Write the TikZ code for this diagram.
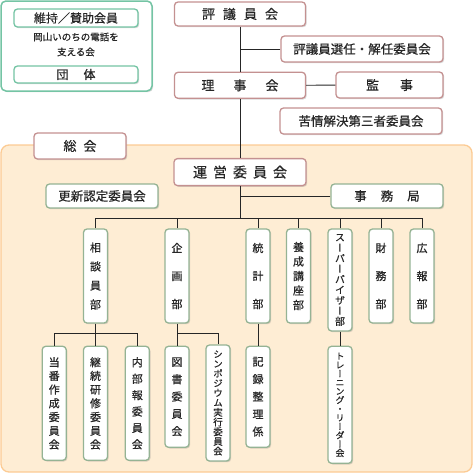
\documentclass[tikz,border=0pt]{standalone}
\usepackage{fontspec}
\usetikzlibrary{positioning,shadows}
\newfontfamily\jpfont[FakeBold=0.6,AutoFakeBold=0.6]{Noto Sans CJK JP}
\newfontfamily\jpvert[RawFeature={+vert},FakeBold=0.6]{Noto Sans CJK JP}
\definecolor{pinkline}{HTML}{C49191}
\definecolor{tealline}{HTML}{74C4A4}
\definecolor{sageline}{HTML}{95B394}
\definecolor{orangefill}{HTML}{FEEDD4}
\definecolor{orangeline}{HTML}{FCCB94}
\definecolor{linkline}{HTML}{262626}
\tikzset{
  orgbox/.style={draw, fill=white, line width=1.3pt, rounded corners=3.5pt, inner sep=0pt,
    text=black!85, drop shadow={shadow xshift=1.2pt, shadow yshift=-1.2pt, opacity=0.3}},
  pinkbox/.style={orgbox, draw=pinkline},
  tealbox/.style={orgbox, draw=tealline},
  greenbox/.style={orgbox, draw=sageline},
  hfont/.style={font=\jpfont\fontsize{#1}{#1}\selectfont},
  vbox/.style={greenbox, minimum width=24pt, align=center},
  vpitch/.style 2 args={font=\jpvert\fontsize{#1}{#2}\selectfont},
  link/.style={draw=linkline, line width=0.8pt},
}
\begin{document}
\begin{tikzpicture}[x=1pt,y=-1pt]
  \useasboundingbox (0,0) rectangle (474,474);
  \draw[orangeline, fill=orangefill, line width=1.3pt, rounded corners=8pt] (1,145) rectangle (472,472);
  \draw[tealline, fill=white, line width=1.5pt, rounded corners=5pt,
    drop shadow={shadow xshift=1.2pt, shadow yshift=-1.2pt, opacity=0.3}] (1,1) rectangle (152,91);

  \node[tealbox, hfont=12, minimum width=124pt, minimum height=18pt] (shiji) at (76,18) {維持／賛助会員};
  \node[align=center, text=black!85, font=\jpfont\fontsize{9.5}{15}\selectfont] (sasaeru) at (76,44.5) {岡山いのちの電話を\\支える会};
  \node[tealbox, hfont=12, minimum width=124pt, minimum height=17pt] (dantai) at (76,74.5) {団\hspace{15pt}体};

  \node[pinkbox, hfont=13, minimum width=131pt, minimum height=24pt] (hyogi) at (240,14) {評\hspace{8pt}議\hspace{8pt}員\hspace{8pt}会};
  \node[pinkbox, hfont=12.5, minimum width=162pt, minimum height=26pt] (senin) at (362,49) {評議員選任・解任委員会};
  \node[pinkbox, hfont=13, minimum width=131pt, minimum height=26pt, below=45pt of hyogi] (riji) {理\hspace{19pt}事\hspace{19pt}会};
  \node[pinkbox, hfont=13, minimum width=107pt, minimum height=26pt] (kansa) at (389.5,85) {監\hspace{21pt}事};
  \node[pinkbox, hfont=12.5, minimum width=162pt, minimum height=26pt] (kujo) at (361,121) {苦情解決第三者委員会};
  \node[pinkbox, hfont=13, minimum width=92pt, minimum height=26pt] (sokai) at (80,146) {総\hspace{7pt}会};
  \node[pinkbox, hfont=14, minimum width=132pt, minimum height=27pt, below=59pt of riji] (unei) {運\hspace{6pt}営\hspace{6pt}委\hspace{6pt}員\hspace{6pt}会};
  \node[greenbox, hfont=12.5, minimum width=112pt, minimum height=24pt] (koshin) at (102,196) {更新認定委員会};
  \node[greenbox, hfont=12.5, minimum width=112pt, minimum height=24pt] (jimu) at (387,196) {事\hspace{14pt}務\hspace{14pt}局};

  \node[vbox, vpitch={11}{19}, minimum height=94pt] (sodan) at (95.5,276) {相\\談\\員\\部};
  \node[vbox, vpitch={11}{28}, minimum height=94pt] (kikaku) at (177,276) {企\\画\\部};
  \node[vbox, vpitch={11}{28}, minimum height=94pt] (tokei) at (258,276) {統\\計\\部};
  \node[vbox, vpitch={11}{14.5}, minimum height=94pt] (yosei) at (298.5,276) {養\\成\\講\\座\\部};
  \node[vbox, vpitch={10}{10.5}, minimum height=102pt] (sv) at (340,280) {ス\\ー\\パ\\ー\\バ\\イ\\ザ\\ー\\部};
  \node[vbox, vpitch={11}{28}, minimum height=94pt] (zaimu) at (381,276) {財\\務\\部};
  \node[vbox, vpitch={11}{28}, minimum height=94pt] (koho) at (422,276) {広\\報\\部};

  \node[vbox, vpitch={11}{13.7}, minimum height=114pt, below=22pt of sodan] (keizoku) {継\\続\\研\\修\\委\\員\\会};
  \node[vbox, vpitch={11}{13.7}, minimum height=114pt, left=16pt of keizoku] (toban) {当\\番\\作\\成\\委\\員\\会};
  \node[vbox, vpitch={11}{16.4}, minimum height=114pt, right=16.5pt of keizoku] (naibu) {内\\部\\報\\委\\員\\会};
  \node[vbox, vpitch={11}{17.3}, minimum height=101pt, below=22pt of kikaku] (tosho) {図\\書\\委\\員\\会};
  \node[vbox, vpitch={9.5}{9.7}, minimum height=116pt] (sympo) at (218,403) {シ\\ン\\ポ\\ジ\\ウ\\ム\\実\\行\\委\\員\\会};
  \node[vbox, vpitch={11}{17.5}, minimum height=101pt, below=22pt of tokei] (kiroku) {記\\録\\整\\理\\係};
  \node[vbox, vpitch={9}{8.8}, minimum height=117pt, below=14pt of sv] (tl) {ト\\レ\\ー\\ニ\\ン\\グ\\・\\リ\\ー\\ダ\\ー\\会};

  \coordinate (bus) at (240,218);
  \coordinate (fork) at (0,333);
  \draw[link] (hyogi) -- (riji);
  \draw[link] (senin.west) -- (senin.west -| hyogi.south);
  \draw[link] (riji) -- (kansa);
  \draw[link] (riji) -- (unei);
  \draw[link] (jimu.west) -- (jimu.west -| unei.south);
  \draw[link] (unei.south) -- (bus);
  \draw[link] (sodan.north |- bus) -- (koho.north |- bus);
  \foreach \d in {sodan,kikaku,tokei,yosei,sv,zaimu,koho}
    \draw[link] (\d.north) -- (\d.north |- bus);
  \draw[link] (sodan) -- (keizoku);
  \draw[link] (toban.north) -- (toban.north |- fork) -- (naibu.north |- fork) -- (naibu.north);
  \draw[link] (kikaku) -- (tosho);
  \draw[link] (tosho.north |- fork) -- (sympo.north |- fork) -- (sympo.north);
  \draw[link] (tokei) -- (kiroku);
  \draw[link] (sv) -- (tl);
\end{tikzpicture}
\end{document}
